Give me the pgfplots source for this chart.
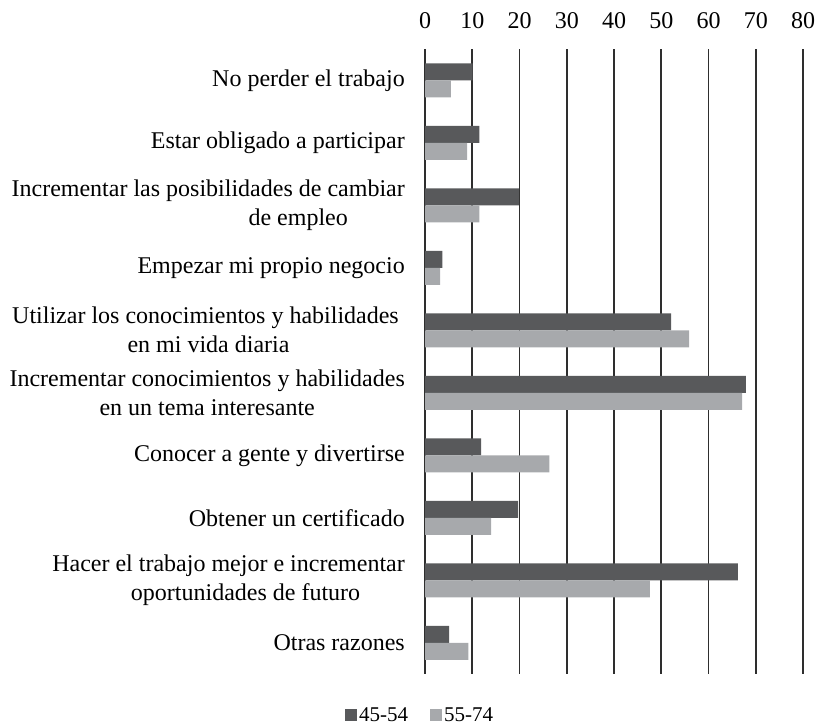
\documentclass[border=0pt]{standalone}
\usepackage{pgfplots}
\pgfplotsset{compat=1.18}
\usepackage{fontspec}
\setmainfont{Liberation Serif}
\definecolor{darkbar}{HTML}{58595B}
\definecolor{lightbar}{HTML}{A7A9AC}
\definecolor{gridc}{HTML}{2E2E2E}
\begin{document}
\begin{tikzpicture}
\begin{axis}[
  scale only axis,
  width=378pt, height=625pt,
  xmin=0, xmax=80,
  ymin=-0.5, ymax=9.5,
  y dir=reverse,
  xbar,
  bar width=17pt,
  axis x line*=top,
  axis y line*=left,
  x axis line style={draw=none},
  y axis line style={draw=gridc, line width=1.6pt},
  xtick={0,10,...,80},
  ytick={0,...,9},
  major tick length=0pt,
  tick style={draw=none},
  xmajorgrids,
  grid style={draw=gridc, line width=1.6pt},
  /pgf/number format/assume math mode=true,
  xticklabel style={font=\fontsize{24}{29}\selectfont, inner sep=0pt, anchor=south, yshift=20pt},
  yticklabel style={font=\fontsize{24}{29}\selectfont, inner sep=0pt, anchor=east, xshift=-20pt, align=center},
  yticklabels={
    No perder el trabajo,
    Estar obligado a participar,
    {Incrementar las posibilidades de cambiar\\\hspace*{180pt}de empleo},
    Empezar mi propio negocio,
    {Utilizar los conocimientos y habilidades\hspace*{6pt}\\en mi vida diaria},
    {Incrementar conocimientos y habilidades\\en un tema interesante},
    Conocer a gente y divertirse,
    Obtener un certificado,
    {Hacer el trabajo mejor e incrementar\\\hspace*{34pt}oportunidades de futuro},
    Otras razones},
  legend columns=2,
  legend style={at={(rel axis cs:-0.013,-0.066)}, anchor=center, draw=none, fill=none,
    font=\fontsize{21}{25}\selectfont, /tikz/every even column/.append style={column sep=20pt},
    /tikz/every odd column/.append style={column sep=0pt}},
  legend image code/.code={\fill[#1] (0cm,-6pt) rectangle (12pt,6pt);},
]
\addplot[fill=darkbar, draw=none, bar shift=8.5pt] coordinates {
  (10.1,0) (11.5,1) (19.9,2) (3.7,3) (52.1,4) (67.9,5) (11.9,6) (19.7,7) (66.2,8) (5.1,9)};
\addlegendentry{45-54}
\addplot[fill=lightbar, draw=none, bar shift=-8.5pt] coordinates {
  (5.5,0) (8.9,1) (11.5,2) (3.2,3) (55.9,4) (67.1,5) (26.3,6) (14.0,7) (47.6,8) (9.2,9)};
\addlegendentry{55-74}
\coordinate (bl) at (rel axis cs:0,0);
\coordinate (tr) at (rel axis cs:1,1);
\end{axis}
\pgfresetboundingbox
\path ([shift={(-425pt,-52pt)}]bl) rectangle ([shift={(15pt,49pt)}]tr);
\end{tikzpicture}
\end{document}
